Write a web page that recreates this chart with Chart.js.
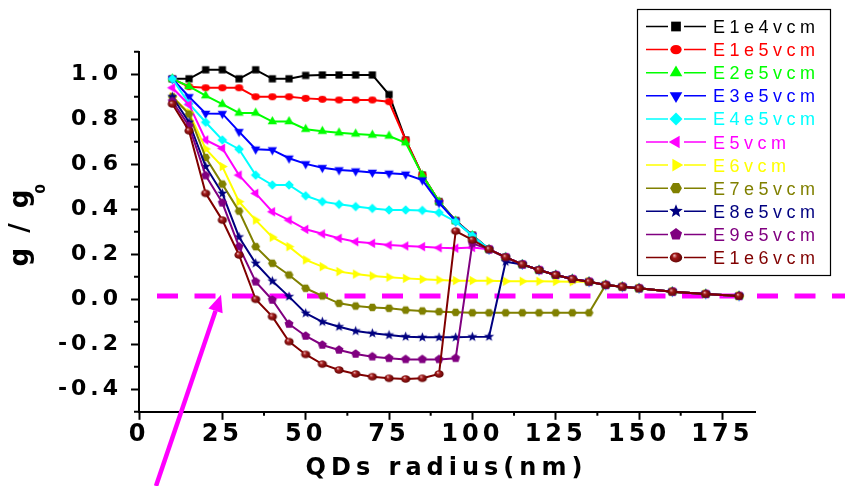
<!DOCTYPE html>
<html>
<head>
<meta charset="utf-8">
<script src="https://cdn.jsdelivr.net/npm/chart.js@4"></script>
<style>
  html, body { margin: 0; padding: 0; background: #fff; }
  #wrap { width: 845px; height: 486px; }
</style>
</head>
<body>
<div id="wrap"><canvas id="chart" width="845" height="486"></canvas></div>
<script>
// QD radius (nm) shared by every series
const radius = [10, 15, 20, 25, 30, 35, 40, 45, 50, 55, 60, 65, 70, 75, 80, 85, 90, 95, 100,
                105, 110, 115, 120, 125, 130, 135, 140, 145, 150, 160, 170, 180];

// g/g0, one array per field strength
const gE1e4 = [0.98, 0.98, 1.02, 1.02, 0.98, 1.02, 0.98, 0.98, 0.995, 0.997, 0.997, 0.997, 0.997, 0.91,
               0.708, 0.552, 0.434, 0.35, 0.285, 0.222, 0.187, 0.155, 0.13, 0.108, 0.09, 0.078, 0.064, 0.056, 0.049, 0.034, 0.024, 0.015];
const gE1e5 = [0.98, 0.945, 0.94, 0.94, 0.94, 0.90, 0.90, 0.90, 0.893, 0.889, 0.886, 0.886, 0.886, 0.878,
               0.708, 0.552, 0.434, 0.35, 0.285, 0.222, 0.187, 0.155, 0.13, 0.108, 0.09, 0.078, 0.064, 0.056, 0.049, 0.034, 0.024, 0.015];
const gE2e5 = [0.98, 0.946, 0.905, 0.867, 0.828, 0.828, 0.79, 0.79, 0.756, 0.747, 0.740, 0.735, 0.730, 0.726,
               0.696, 0.552, 0.434, 0.348, 0.284, 0.222, 0.187, 0.155, 0.13, 0.108, 0.09, 0.078, 0.064, 0.056, 0.049, 0.034, 0.024, 0.015];
const gE3e5 = [0.98, 0.90, 0.826, 0.825, 0.745, 0.667, 0.664, 0.627, 0.602, 0.585, 0.575, 0.570, 0.564, 0.560,
               0.556, 0.53, 0.429, 0.348, 0.283, 0.222, 0.187, 0.155, 0.13, 0.108, 0.09, 0.078, 0.064, 0.056, 0.049, 0.034, 0.024, 0.015];
const gE4e5 = [0.98, 0.87, 0.787, 0.708, 0.667, 0.552, 0.508, 0.508, 0.46, 0.434, 0.422, 0.412, 0.404, 0.397,
               0.397, 0.395, 0.385, 0.345, 0.283, 0.222, 0.187, 0.155, 0.13, 0.108, 0.09, 0.078, 0.064, 0.056, 0.049, 0.034, 0.024, 0.015];
const gE5 = [0.94, 0.865, 0.708, 0.671, 0.552, 0.471, 0.389, 0.352, 0.311, 0.291, 0.271, 0.256, 0.249, 0.241,
             0.237, 0.234, 0.229, 0.227, 0.23, 0.222, 0.187, 0.155, 0.13, 0.108, 0.09, 0.078, 0.064, 0.056, 0.049, 0.034, 0.024, 0.015];
const gE6 = [0.90, 0.83, 0.668, 0.59, 0.434, 0.352, 0.276, 0.234, 0.175, 0.145, 0.123, 0.112, 0.104, 0.098,
             0.093, 0.089, 0.086, 0.083, 0.083, 0.082, 0.08, 0.08, 0.08, 0.079, 0.078, 0.078, 0.064, 0.056, 0.049, 0.034, 0.024, 0.015];
const gE7e5 = [0.90, 0.823, 0.63, 0.512, 0.392, 0.234, 0.16, 0.108, 0.049, 0.015, -0.018, -0.03, -0.036, -0.04,
               -0.048, -0.052, -0.055, -0.058, -0.06, -0.06, -0.06, -0.06, -0.06, -0.06, -0.06, -0.06, 0.064, 0.056, 0.049, 0.034, 0.024, 0.015];
const gE8e5 = [0.90, 0.787, 0.59, 0.471, 0.277, 0.16, 0.081, 0.012, -0.062, -0.1, -0.122, -0.141, -0.151, -0.159,
               -0.166, -0.169, -0.169, -0.169, -0.167, -0.166, 0.167, 0.155, 0.13, 0.108, 0.09, 0.078, 0.064, 0.056, 0.049, 0.034, 0.024, 0.015];
const gE9e5 = [0.88, 0.77, 0.55, 0.429, 0.234, 0.078, -0.003, -0.11, -0.163, -0.203, -0.225, -0.243, -0.255, -0.262,
               -0.267, -0.267, -0.267, -0.262, 0.249, 0.222, 0.187, 0.155, 0.13, 0.108, 0.09, 0.078, 0.064, 0.056, 0.049, 0.034, 0.024, 0.015];
const gE1e6 = [0.868, 0.749, 0.471, 0.352, 0.197, 0.0, -0.077, -0.188, -0.245, -0.288, -0.314, -0.332, -0.344, -0.351,
               -0.354, -0.351, -0.332, 0.303, 0.264, 0.222, 0.187, 0.155, 0.13, 0.108, 0.09, 0.078, 0.064, 0.056, 0.049, 0.034, 0.024, 0.015];

const seriesLabels = ['E1e4vcm', 'E1e5vcm', 'E2e5vcm', 'E3e5vcm', 'E4e5vcm', 'E5vcm', 'E6vcm', 'E7e5vcm', 'E8e5vcm', 'E9e5vcm', 'E1e6vcm'];
const seriesValues = [gE1e4, gE1e5, gE2e5, gE3e5, gE4e5, gE5, gE6, gE7e5, gE8e5, gE9e5, gE1e6];
const seriesColors = ['#000000', '#FF0000', '#00FF00', '#0000FF', '#00FFFF', '#FF00FF', '#FFFF00', '#808000', '#000080', '#800080', '#800000'];
const seriesMarkers = ['square', 'circle', 'triUp', 'triDown', 'diamond', 'triLeft', 'triRight', 'hexagon', 'star', 'pentagon', 'sphere'];

const xTickValues = [0, 25, 50, 75, 100, 125, 150, 175];
const yTickValues = [-0.4, -0.2, 0, 0.2, 0.4, 0.6, 0.8, 1.0];

// dashed reference line and the arrow pointing at it (data units)
const refLineX = [5.4, 215];
const refLineY = 0.015;
const arrowTail = { x: 5.1, y: -0.83 };
const arrowTip = { x: 24.6, y: 0.02 };

const markerSize = { square: 5, circle: 4.2, triUp: 5.4, triDown: 5.4, diamond: 4.8, triLeft: 5.4, triRight: 5.4, hexagon: 4.4, star: 5.3, pentagon: 4.7, sphere: 4.6 };

function markerPath(ctx, kind, x, y, r) {
    ctx.beginPath();
    const poly = (n, rot) => {
        for (let k = 0; k < n; k++) {
            const a = rot + k * 2 * Math.PI / n;
            const px = x + r * Math.cos(a), py = y + r * Math.sin(a);
            if (k) ctx.lineTo(px, py); else ctx.moveTo(px, py);
        }
        ctx.closePath();
    };
    switch (kind) {
        case 'square': { const s = r * 0.72; ctx.rect(x - s, y - s, 2 * s, 2 * s); break; }
        case 'circle':
        case 'sphere': ctx.ellipse(x, y, r, r * 0.82, 0, 0, 2 * Math.PI); break;
        case 'triUp': poly(3, -Math.PI / 2); break;
        case 'triDown': poly(3, Math.PI / 2); break;
        case 'triLeft': poly(3, Math.PI); break;
        case 'triRight': poly(3, 0); break;
        case 'diamond': poly(4, 0); break;
        case 'hexagon': poly(6, 0); break;
        case 'pentagon': poly(5, -Math.PI / 2); break;
        case 'star':
            for (let k = 0; k < 10; k++) {
                const rr = k % 2 ? r * 0.42 : r;
                const a = -Math.PI / 2 + k * Math.PI / 5;
                const px = x + rr * Math.cos(a), py = y + rr * Math.sin(a);
                if (k) ctx.lineTo(px, py); else ctx.moveTo(px, py);
            }
            ctx.closePath();
            break;
    }
}

function paintMarker(ctx, kind, color, x, y, r) {
    markerPath(ctx, kind, x, y, r);
    if (kind === 'sphere') {
        const g = ctx.createRadialGradient(x - r * 0.3, y - r * 0.35, 0, x, y, r * 1.1);
        g.addColorStop(0, '#f0c0c0');
        g.addColorStop(0.35, '#a01818');
        g.addColorStop(1, '#500000');
        ctx.fillStyle = g;
    } else {
        ctx.fillStyle = color;
    }
    ctx.fill();
}

function markerImage(kind, color, r) {
    const c = document.createElement('canvas');
    const size = Math.ceil(2 * r + 2);
    c.width = size;
    c.height = size;
    paintMarker(c.getContext('2d'), kind, color, size / 2, size / 2, r);
    return c;
}

const datasets = seriesLabels.map((label, i) => ({
    label: label,
    data: radius.map((x, k) => ({ x: x, y: seriesValues[i][k] })),
    borderColor: seriesColors[i],
    backgroundColor: seriesColors[i],
    borderWidth: 2,
    pointStyle: markerImage(seriesMarkers[i], seriesColors[i], markerSize[seriesMarkers[i]]),
    pointRadius: 5,
    tension: 0,
    order: 20 - i
}));

datasets.push({
    label: 'reference',
    data: refLineX.map(x => ({ x: x, y: refLineY })),
    borderColor: '#FF00FF',
    borderWidth: 5,
    borderDash: [21, 16.5],
    pointRadius: 0,
    clip: false,
    order: 99
});

const decorations = {
    id: 'decorations',
    beforeDraw(chart) {
        chart.ctx.letterSpacing = '4px';
    },
    afterDraw(chart) {
        const ctx = chart.ctx;
        const xs = chart.scales.x, ys = chart.scales.y;
        ctx.save();
        ctx.strokeStyle = '#000';
        ctx.lineWidth = 2;

        // minor ticks
        ctx.beginPath();
        for (let v = 12.5; v < 185; v += 25) {
            const px = xs.getPixelForValue(v);
            ctx.moveTo(px, xs.top);
            ctx.lineTo(px, xs.top + 4);
        }
        for (let v = -0.5; v < 1.15; v += 0.2) {
            const py = ys.getPixelForValue(v);
            ctx.moveTo(ys.right, py);
            ctx.lineTo(ys.right - 5, py);
        }
        ctx.stroke();

        // axis titles
        ctx.fillStyle = '#000';
        ctx.font = 'bold 24px "DejaVu Sans", sans-serif';
        ctx.letterSpacing = '5px';
        ctx.textAlign = 'center';
        ctx.textBaseline = 'alphabetic';
        ctx.fillText('QDs radius(nm)', 446.5, 475);

        ctx.save();
        ctx.translate(27.6, 228);
        ctx.rotate(-Math.PI / 2);
        ctx.font = 'bold 26px "DejaVu Sans", sans-serif';
        ctx.letterSpacing = '3px';
        ctx.fillText('g / g', 1.5, 0);
        ctx.restore();
        ctx.save();
        ctx.translate(45, 189);
        ctx.rotate(-Math.PI / 2);
        ctx.font = 'bold 14px "DejaVu Sans", sans-serif';
        ctx.letterSpacing = '0px';
        ctx.fillText('0', 0, 0);
        ctx.restore();

        // legend
        ctx.lineWidth = 1.2;
        ctx.strokeStyle = '#000';
        ctx.strokeRect(637.5, 9.5, 193, 266);
        ctx.font = '18px "Liberation Sans", Arial, sans-serif';
        ctx.letterSpacing = '4.5px';
        ctx.textAlign = 'left';
        seriesLabels.forEach((label, i) => {
            const cy = 26.5 + i * 23.1;
            const color = seriesColors[i];
            ctx.strokeStyle = color;
            ctx.lineWidth = 1.5;
            ctx.beginPath();
            ctx.moveTo(646, cy);
            ctx.lineTo(668, cy);
            ctx.moveTo(684, cy);
            ctx.lineTo(706, cy);
            ctx.stroke();
            paintMarker(ctx, seriesMarkers[i], color, 676, cy, markerSize[seriesMarkers[i]] * 1.35);
            ctx.fillStyle = color;
            ctx.fillText(label, 713, cy + 6.5);
        });

        // arrow
        const tx = xs.getPixelForValue(arrowTail.x), ty = ys.getPixelForValue(arrowTail.y);
        const hx = xs.getPixelForValue(arrowTip.x), hy = ys.getPixelForValue(arrowTip.y);
        const ang = Math.atan2(hy - ty, hx - tx);
        const headLen = 17, headHalf = 7.5;
        const bx = hx - headLen * Math.cos(ang), by = hy - headLen * Math.sin(ang);
        ctx.strokeStyle = '#FF00FF';
        ctx.fillStyle = '#FF00FF';
        ctx.lineWidth = 4.5;
        ctx.beginPath();
        ctx.moveTo(tx, ty);
        ctx.lineTo(bx, by);
        ctx.stroke();
        ctx.beginPath();
        ctx.moveTo(hx, hy);
        ctx.lineTo(bx + headHalf * Math.sin(ang), by - headHalf * Math.cos(ang));
        ctx.lineTo(bx - headHalf * Math.sin(ang), by + headHalf * Math.cos(ang));
        ctx.closePath();
        ctx.fill();
        ctx.restore();
    }
};

const ctx = document.getElementById('chart').getContext('2d');
new Chart(ctx, {
    type: 'line',
    data: { datasets: datasets },
    plugins: [decorations],
    options: {
        responsive: false,
        animation: false,
        devicePixelRatio: 1,
        layout: { padding: { left: 0, right: 89.3, top: 51.8, bottom: 0 } },
        plugins: {
            legend: { display: false },
            tooltip: { enabled: false },
            title: { display: false }
        },
        scales: {
            x: {
                type: 'linear',
                min: 0,
                max: 185,
                afterBuildTicks: s => { s.ticks = xTickValues.map(v => ({ value: v })); },
                afterFit: s => { s.height = 74.2; },
                ticks: {
                    color: '#000',
                    font: { family: '"DejaVu Sans", sans-serif', weight: 'bold', size: 24, lineHeight: 1 },
                    padding: 3,
                    maxRotation: 0,
                    autoSkip: false,
                    callback: v => String(v)
                },
                grid: { display: true, drawOnChartArea: false, drawTicks: true, tickLength: 8, tickWidth: 2, tickColor: '#000' },
                border: { display: true, color: '#000', width: 2 }
            },
            y: {
                type: 'linear',
                min: -0.5,
                max: 1.1,
                afterBuildTicks: s => { s.ticks = yTickValues.map(v => ({ value: v })); },
                afterFit: s => { s.width = 139; },
                ticks: {
                    color: '#000',
                    font: { family: '"DejaVu Sans", sans-serif', weight: 'bold', size: 22, lineHeight: 1 },
                    padding: 9,
                    autoSkip: false,
                    callback: v => (Math.abs(v) < 1e-9 ? 0 : v).toFixed(1)
                },
                grid: { display: true, drawOnChartArea: false, drawTicks: true, tickLength: 8, tickWidth: 2, tickColor: '#000' },
                border: { display: true, color: '#000', width: 2 }
            }
        }
    }
});
</script>
</body>
</html>
